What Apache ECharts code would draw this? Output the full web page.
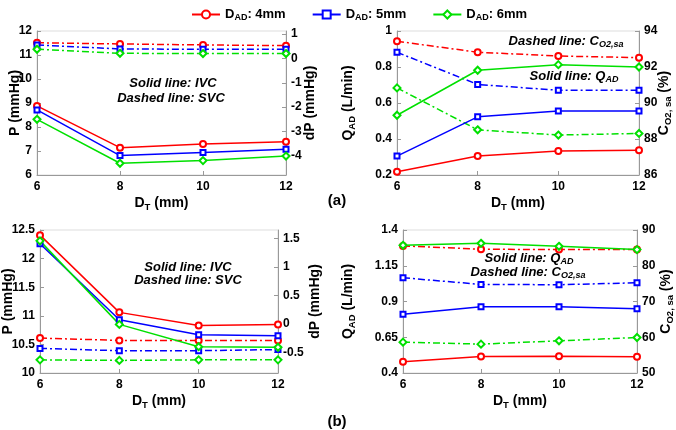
<!DOCTYPE html>
<html><head><meta charset="utf-8">
<script src="https://cdn.jsdelivr.net/npm/echarts@6/dist/echarts.min.js"></script>
<style>html,body{margin:0;padding:0;background:#fff}#c{width:676px;height:430px}</style>
</head><body><div id="c"></div>
<script>
const dT = [6, 8, 10, 12];
const groupNames = ['4mm', '5mm', '6mm'];
// Panel (a) left: P (mmHg)
const aIVC = [[8.88, 7.14, 7.29, 7.39], [8.71, 6.81, 6.94, 7.07], [8.32, 6.49, 6.60, 6.79]];
const aSVC = [[11.51, 11.46, 11.42, 11.39], [11.42, 11.25, 11.24, 11.24], [11.24, 11.07, 11.06, 11.06]];
// Panel (a) right: Q_AD (L/min) and C_O2,sa (%)
const aQ = [[0.218, 0.305, 0.333, 0.338], [0.305, 0.523, 0.555, 0.555], [0.532, 0.782, 0.813, 0.800]];
const aC = [[93.43, 92.82, 92.61, 92.52], [92.82, 91.03, 90.71, 90.71], [90.84, 88.51, 88.22, 88.31]];
// Panel (b) left
const bIVC = [[12.41, 11.06, 10.83, 10.85], [12.26, 10.93, 10.67, 10.65], [12.31, 10.85, 10.46, 10.45]];
const bSVC = [[10.61, 10.57, 10.57, 10.57], [10.43, 10.39, 10.39, 10.41], [10.23, 10.22, 10.23, 10.23]];
// Panel (b) right
const bQ = [[0.479, 0.516, 0.518, 0.514], [0.811, 0.864, 0.864, 0.850], [1.293, 1.307, 1.286, 1.263]];
const bC = [[85.55, 84.62, 84.52, 84.52], [76.64, 74.78, 74.69, 75.24], [58.63, 58.07, 59.00, 59.93]];
// Tick labels
const xTicks = [6, 8, 10, 12];
const aPTicks = [6, 7, 8, 9, 10, 11, 12];
const aDPTicks = [-4, -3, -2, -1, 0, 1];
const aQTicks = [0.2, 0.4, 0.6, 0.8, 1];
const aCTicks = [86, 88, 90, 92, 94];
const bPTicks = [10, 10.5, 11, 11.5, 12, 12.5];
const bDPTicks = [-0.5, 0, 0.5, 1, 1.5];
const bQTicks = [0.4, 0.65, 0.9, 1.15, 1.4];
const bCTicks = [50, 60, 70, 80, 90];

const colors = ['#ff0000', '#0000ff', '#00e000'];
const symbols = ['emptyCircle', 'emptyRect', 'emptyDiamond'];
const symSizes = [6, 5, 7];
const FONT = 'Liberation Sans, Arial, sans-serif';
const names = groupNames.map(g => 'D_AD: ' + g);

const rich = {
  b: {fontFamily: FONT, fontWeight: 'bold', fontSize: 14, color: '#000'},
  s: {fontFamily: FONT, fontWeight: 'bold', fontSize: 9.5, color: '#000', padding: [8, 0, 0, 0]}
};
const lbl = (ticks, extra) => Object.assign({fontFamily: FONT, fontWeight: 'bold', fontSize: 12, color: '#000', margin: 5,
  showMaxLabel: true, showMinLabel: true, hideOverlap: false, customValues: ticks}, extra || {});
const tck = (ticks) => ({inside: true, length: 4, lineStyle: {color: '#999'}, customValues: ticks});

function xAx(gi) {
  return {
    type: 'value', gridIndex: gi, min: 6, max: 12,
    name: '{b|D}{s|T}{b| (mm)}', nameLocation: 'middle', nameGap: 19, nameMoveOverlap: false,
    nameTextStyle: {rich: rich},
    axisLine: {onZero: false, lineStyle: {color: '#999'}},
    axisTick: tck(xTicks),
    axisLabel: lbl(xTicks, {margin: 6}),
    splitLine: {show: false}
  };
}
function yAx(gi, pos, min, max, ticks, name, gap) {
  return {
    type: 'value', gridIndex: gi, position: pos, min: min, max: max,
    name: name, nameGap: gap, nameMoveOverlap: false,
    nameLocation: 'middle', nameRotate: 90,
    nameTextStyle: {rich: rich},
    axisLine: {show: true, onZero: false, lineStyle: {color: '#999'}},
    axisTick: tck(ticks),
    axisLabel: lbl(ticks),
    splitLine: {show: false}
  };
}

const grids = [
  {left: 37, top: 31, width: 249, height: 144},
  {left: 397, top: 31, width: 242, height: 144},
  {left: 37, top: 230, width: 241, height: 143},
  {left: 403, top: 230, width: 236, height: 143}
].map(g => Object.assign(g, {show: true, borderColor: '#ddd', borderWidth: 1, backgroundColor: 'transparent'}));

const xAxes = [0, 1, 2, 3].map(xAx);
const yAxes = [
  yAx(0, 'left', 6, 12, aPTicks, '{b|P (mmHg)}', 15),
  yAx(0, 'right', -4.79, 1.13, aDPTicks, '{b|dP (mmHg)}', 17),
  yAx(1, 'left', 0.2, 1, aQTicks, '{b|Q}{s|AD}{b| (L/min)}', 40),
  yAx(1, 'right', 86, 94, aCTicks, '{b|C}{s|O2, sa}{b| (%)}', 16),
  yAx(2, 'left', 10, 12.5, bPTicks, '{b|P (mmHg)}', 25),
  yAx(2, 'right', -0.86, 1.65, bDPTicks, '{b|dP (mmHg)}', 30),
  yAx(3, 'left', 0.4, 1.4, bQTicks, '{b|Q}{s|AD}{b| (L/min)}', 46),
  yAx(3, 'right', 50, 90, bCTicks, '{b|C}{s|O2, sa}{b| (%)}', 20)
];

const series = [];
function add(vals, xi, yi, dashed) {
  vals.forEach((arr, k) => {
    series.push({
      type: 'line', name: names[k], xAxisIndex: xi, yAxisIndex: yi,
      data: dT.map((x, i) => [x, arr[i]]),
      symbol: symbols[k], symbolSize: symSizes[k], showSymbol: true,
      itemStyle: {color: colors[k], borderWidth: 1.3},
      lineStyle: {color: colors[k], width: 1.5, type: dashed ? [7, 3, 2, 3] : 'solid'},
      emphasis: {disabled: true}, animation: false, z: dashed ? 2 : 3
    });
  });
}
add(aIVC, 0, 0, false); add(aSVC, 0, 0, true);
add(aQ, 1, 2, false); add(aC, 1, 3, true);
add(bIVC, 2, 4, false); add(bSVC, 2, 4, true);
add(bQ, 3, 6, false); add(bC, 3, 7, true);

const ann = {
  it: {fontFamily: FONT, fontWeight: 'bold', fontStyle: 'italic', fontSize: 13, color: '#000'},
  is: {fontFamily: FONT, fontWeight: 'bold', fontStyle: 'italic', fontSize: 9, color: '#000', padding: [7, 0, 0, 0]}
};
function txt(x, y, t, align) {
  return {type: 'text', x: x, y: y, style: {text: t, rich: ann, align: align || 'center', verticalAlign: 'middle'}, z: 10};
}

const option = {
  animation: false,
  grid: grids, xAxis: xAxes, yAxis: yAxes, series: series,
  legend: {
    data: names, left: 186, top: 3, itemWidth: 28, itemHeight: 10, itemGap: 26,
    formatter: n => '{b|D}{s|AD}{b|: ' + n.split(': ')[1] + '}',
    textStyle: {rich: {
      b: {fontFamily: FONT, fontWeight: 'bold', fontSize: 13, color: '#000'},
      s: {fontFamily: FONT, fontWeight: 'bold', fontSize: 9, color: '#000', padding: [7, 0, 0, 0]}
    }}
  },
  graphic: [
    txt(173, 83, '{it|Solid line: IVC}'),
    txt(171, 98, '{it|Dashed line: SVC}'),
    txt(566, 41, '{it|Dashed line: C}{is|O2,sa}'),
    txt(574, 76, '{it|Solid line: Q}{is|AD}'),
    txt(188, 267, '{it|Solid line: IVC}'),
    txt(188, 280, '{it|Dashed line: SVC}'),
    txt(529, 258, '{it|Solid line: Q}{is|AD}'),
    txt(528, 272, '{it|Dashed line: C}{is|O2,sa}'),
    {type: 'text', x: 337, y: 201, style: {text: '(a)', font: 'bold 15px ' + FONT, fill: '#000', align: 'center', verticalAlign: 'middle'}},
    {type: 'text', x: 337, y: 422, style: {text: '(b)', font: 'bold 15px ' + FONT, fill: '#000', align: 'center', verticalAlign: 'middle'}}
  ]
};
const chart = echarts.init(document.getElementById('c'), null, {renderer: 'canvas'});
chart.setOption(option);
</script></body></html>
